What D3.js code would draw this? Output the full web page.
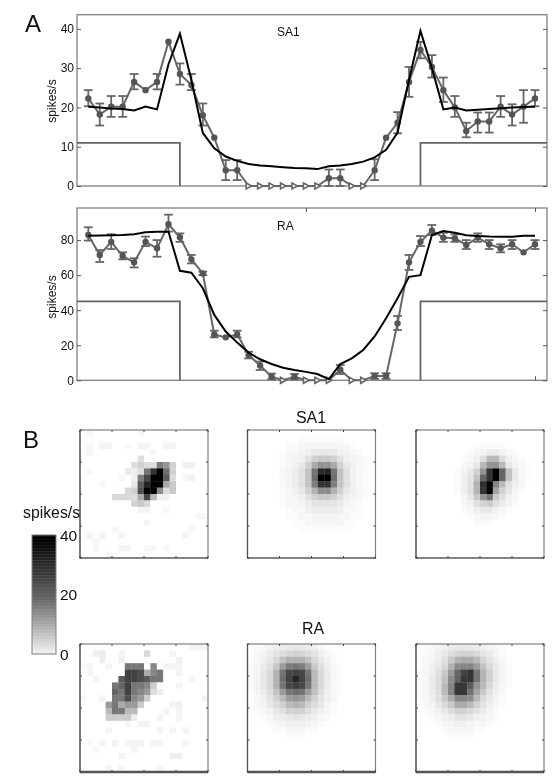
<!DOCTYPE html>
<html>
<head>
<meta charset="utf-8">
<script src="https://cdn.jsdelivr.net/npm/d3@7"></script>
<style>
  html, body { margin: 0; padding: 0; background: #fff; }
  svg { display: block; filter: blur(0.4px); }
  text { font-family: "Liberation Sans", Arial, sans-serif; fill: #111; }
</style>
</head>
<body>
<div id="chart"></div>
<script>
// top panel, SA1
const sa1Mean = [22.3,18.2,20.2,20.2,26.5,24.4,26.5,36.7,28.5,25.7,18,12.3,4,4,0,0,0,0,0,0,0,2,2,0,0,4,12.3,16.1,26.5,34.6,30.3,24.4,20,14,16.4,16.4,20.2,18.2,20.2,22.3];
const sa1Upper = [24.4,21,22.9,22.9,28.5,24.4,28.5,36.7,31.2,28.5,21,12.3,6.6,6.6,0,0,0,0,0,0,0,4.2,4.2,0,0,6.8,12.3,18.8,30.3,36.7,33.3,27.6,22.9,16.1,18.7,18.7,22.9,20.8,24.4,24.4];
const sa1Lower = [20.3,15.4,17.6,17.6,24.6,24.4,24.6,36.7,25.8,24.4,15.4,12.3,1.5,1.5,0,0,0,0,0,0,0,0,0,0,0,1.5,12.3,13.4,22.7,32.5,27.6,21.4,17.6,12.4,13.6,13.6,17.6,15.4,16.1,20.3];
const sa1Model = [20.2,20,19.7,19.6,19.2,20.2,19.5,31,38.8,27,13.5,9.6,7.5,6.4,5.6,5.2,5,4.8,4.6,4.5,4.3,5,5.2,5.6,6.2,7.3,9.2,13.6,27,39.5,30,19.5,20,19.2,19.4,19.6,19.8,20,20.1,20.2];
// bottom panel, RA
const raMean = [82.9,71.5,79,70.9,67.3,79,75.3,89,81.6,69,61,26.2,24.5,26.2,14.4,8.4,2.1,0,2,0,0,0,6,0,0,2.5,2.5,32.5,67.3,79,85.4,81.4,81,77.2,81.4,77.6,75.3,77.6,73,77.6];
const raUpper = [87.3,74.3,83.3,73,69.6,82,80,94.5,83.8,71.5,62,28.3,24.5,28.3,16.3,10.7,3.8,0,3.6,0,0,0,8.7,0,0,4,4,36.7,71.5,82.3,88.6,84.2,83.3,80,83.8,80,77.6,80,73,80];
const raLower = [79.7,67.5,74.9,69,64.4,76.6,70.5,84.8,79,66.7,60,24.5,24.5,24.5,12.5,5.9,0.6,0,0.6,0,0,0,3.6,0,0,0.8,0.8,28.7,63,76.6,82.9,79,79,74.9,79,74.9,73,74.9,73,74.9];
const raModel = [82.5,82.6,82.7,82.9,83.3,84.4,84.8,84.8,62.5,61.4,52.5,37.3,27.8,21.5,15.8,12,9.3,7.2,5.9,4.8,3.6,0.6,9.3,12.5,17.3,25,35.4,46.8,59,60,82.9,85.2,84.2,82.7,82.3,82,81.9,81.9,82.5,82.5];

const sa1Ticks = [0, 10, 20, 30, 40];
const raTicks = [0, 20, 40, 60, 80];
const colorbarTicks = [0, 20, 40];
const sa1Gate = 11;
const raGate = 45;
const gateEdges = [8, 29];

// receptive field maps, 20 x 20, spikes/s
const mapSa1Data = [
  [0,1,0,0,0,0,0,0,0,1,0,0,0,0,0,0,0,0,0,0],
  [0,0,0,0,0,0,0,0,0,0,0,0,0,0,0,0,0,0,0,0],
  [0,1,0,1.5,1.5,0,0,1,0,1.5,1.5,0,0,1.5,1.5,0,0,0,0,0],
  [0,1,0,0,0,0,0,0,0,0,0,1,0,0,0,0,0,0,0,0],
  [0,0,0,0,0,0,0,0,0,4,0,0,0,0,0,0,0,0,0,0],
  [0,0,0,0,0,0,0,0,4.4,6,4.4,4.4,17,14,6,0,2,2,0,0],
  [0,1,0,0,0,0,0,3,2,4.4,18,30,40,19,6,0,0,0,0,0],
  [0,0,0,0,0,0,1,0,2,17,26,40,40,22,4.4,0,1,2,0,0],
  [0,0,0,1,0,0,0,0,3,22,33,40,40,11,7,0,0,0,0,0],
  [0,0,0,0,0,0,0,5,6,24,40,40,15,4.4,7,0,0,0,0,0],
  [0,0,0,0,0,5,5,5,4.4,11,26,9,2,2,0,0,0,0,0,0],
  [0,0,0,0,0,0,0,0,6,7,5,0,0,0,0,0,0,0,0,0],
  [0,0,0,0,0,0,0,0,0,1.5,1.5,0,0,1,0,0,0,0,0,0],
  [0,0,0,0,0,0,0,0,0,0,0,0,0,0,0,0,0,0,1,1],
  [0,0,0,0,0,0,0,0,0,0,1.5,0,0,0,0,0,0,0,0,0],
  [0,0,0,0,0,1,0,0,0,0,0,0,0,0,0,0,0,1,0,0],
  [0,1.5,0,1.5,0,0,1.5,0,0,0,0,0,0,0,0,0,1.5,0,0,0],
  [0,0,1,0,0,0,0,0,0,0,0,0,0,0,0,0,0,0,0,0],
  [0,0,1,0,0,0,1.5,1.5,0,0,1,1,0,1,0,0,0,0,0,0],
  [0,0,0,0,1,0,0,0,0,0,0,0,0,0,0,0,0,0,0,0]
];
const mapSa1Model = [
  [0,0,0,0,0,0,0,0,0,0,0,0,0,0,0,0,0,0,0,0],
  [0,0,0,0,0,0,0,0,0.5,0.5,0.5,0.5,0.5,0.5,0.5,0,0,0,0,0],
  [0,0,0,0,0,0,0.5,0.5,1,1,1.5,1.5,1.5,1.5,1,1,0.5,0,0,0],
  [0,0,0,0,0,0.5,1,1,1.5,2,3,3,3,3,2,1.5,1,0.5,0,0],
  [0,0,0,0,0,0.5,1,1.5,2,4,6,7,7,6,4,2,1.5,1,0.5,0],
  [0,0,0,0,0,0.5,1,2,3,6,11,14,14,11,6,3,2,1,0.5,0],
  [0,0,0,0,0,1,1.5,2.5,4,8,18,32,33,18,8,4,2,1,0.5,0],
  [0,0,0,0,0,1,1.5,2.5,4,8,19,40,40,19,8,4,2,1,0.5,0],
  [0,0,0,0,0,1,1.5,2.5,4,8,17,30,30,17,8,4,2,1,0.5,0],
  [0,0,0,0,0,0.5,1,2,3,6,10,15,15,10,6,3,2,1,0.5,0],
  [0,0,0,0,0,0.5,1,1.5,2,4,6,7,7,6,4,2,1.5,1,0.5,0],
  [0,0,0,0,0,0.5,1,1,1.5,2.5,3.5,3.5,3.5,3.5,2.5,1.5,1,0.5,0,0],
  [0,0,0,0,0,0,0.5,1,1,2,2.5,2.5,2.5,2.5,2,1,1,0.5,0,0],
  [0,0,0,0,0,0,0.5,0.5,1,1,1.5,1.5,1.5,1.5,1,1,0.5,0.5,0,0],
  [0,0,0,0,0,0,0,0.5,0.5,1,1,1,1,1,1,0.5,0.5,0,0,0],
  [0,0,0,0,0,0,0,0,0.5,0.5,0.5,0.5,0.5,0.5,0.5,0.5,0,0,0,0],
  [0,0,0,0,0,0,0,0,0,0,0,0,0,0,0,0,0,0,0,0],
  [0,0,0,0,0,0,0,0,0,0,0,0,0,0,0,0,0,0,0,0],
  [0,0,0,0,0,0,0,0,0,0,0,0,0,0,0,0,0,0,0,0],
  [0,0,0,0,0,0,0,0,0,0,0,0,0,0,0,0,0,0,0,0]
];
const mapSa1Fit = [
  [0,0,0,0,0,0,0,0,0,0,0,0,0,0,0,0,0,0,0,0],
  [0,0,0,0,0,0,0,0,0,0,0,0,0,0,0,0,0,0,0,0],
  [0,0,0,0,0,0,0,0,0,0.5,0.5,0.5,0.5,0.5,0,0,0,0,0,0],
  [0,0,0,0,0,0,0,0,0.5,1,1.5,2.5,2.5,1.5,1,0.5,0,0,0,0],
  [0,0,0,0,0,0,0,0.5,1,2,4.4,9,9,4.4,2,1,0.5,0,0,0],
  [0,0,0,0,0,0,0,1,1.5,3,9,14,14,9,3,1.5,1,0.5,0,0],
  [0,0,0,0,0,0,0.5,1.5,3,6,14,30,40,20,8,3,1,0.5,0,0],
  [0,0,0,0,0,0,0.5,2,3.5,8,20,30,40,20,8,3,1,0.5,0,0],
  [0,0,0,0,0,0,0.5,2,4,10,31,40,16,9,4,2,1,0,0,0],
  [0,0,0,0,0,0,0.5,2,4,10,30,40,12,6,3,1.5,0.5,0,0,0],
  [0,0,0,0,0,0,0,1.5,3,7,14,18,7,4,2,1,0,0,0,0],
  [0,0,0,0,0,0,0,1,2,4,6,7,4,2.5,1.5,0.5,0,0,0,0],
  [0,0,0,0,0,0,0,0.5,1,2,3,3,2,1,0.5,0,0,0,0,0],
  [0,0,0,0,0,0,0,0,0.5,1,1.5,1.5,1,0.5,0,0,0,0,0,0],
  [0,0,0,0,0,0,0,0,0,0.5,0.5,0.5,0,0,0,0,0,0,0,0],
  [0,0,0,0,0,0,0,0,0,0,0,0,0,0,0,0,0,0,0,0],
  [0,0,0,0,0,0,0,0,0,0,0,0,0,0,0,0,0,0,0,0],
  [0,0,0,0,0,0,0,0,0,0,0,0,0,0,0,0,0,0,0,0],
  [0,0,0,0,0,0,0,0,0,0,0,0,0,0,0,0,0,0,0,0],
  [0,0,0,0,0,0,0,0,0,0,0,0,0,0,0,0,0,0,0,0]
];
const mapRaData = [
  [0,0,0,0,0,0,0,0,0,0,0,0,0,0,0,0,0,1.5,1.5,1.5],
  [0,0,2,2.5,0,0,1.5,0,0,0,5,0,0,0,1.5,0,0,0,0,0],
  [0,0,0,2,0,0,2,0,0,0,0,0,0,0,0,2,0,0,0,0],
  [1,1,0,0,1.5,0,0,17.8,17.8,17.8,0,15.6,0,1.5,1.5,1.5,0,0,0,0],
  [0,1.5,0,0,0,0,0,27,27,25,11,15.6,17.8,0,0,1.5,0,0,0,0],
  [0,0,1.5,0,0,0,22,27,27,25,22,17.8,17.8,0,0,0,0,1.5,0,0],
  [0,0,0,0,0,17.8,20,27,17.8,17.8,15.6,6.7,0,0,0,1.5,0,0,0,0],
  [0,0,0,0,0,20,17.8,27,17.8,15.6,13.3,4.4,2.2,0,0,0,0,0,0,0],
  [1,0,0,1.5,0,17.8,17.8,25,15.6,13.3,6.7,0,0,0,0,0,0,0,0,1.5],
  [0,0,0,0,13.3,17.8,11,13.3,13.3,6.7,0,0,0,0,1.5,2,0,0,0,0],
  [0,0,0,0,9,17.8,17.8,9,9,0,0,0,0,1.5,0,1.5,0,0,0,0],
  [0,0,0,0,6.7,6.7,6.7,6.7,2.2,0,0,0,1.5,0,0,1.5,0,0,0,0],
  [0,0,0,0,0,0,0,1.5,0,1.5,1.5,0,0,0,0,0,0,0,0,0],
  [0,0,0,0,1.5,0,0,0,0,0,0,0,1.5,0,1.5,0,1.5,0,0,0],
  [0,0,0,0,0,0,0,0,0,0,0,0,0,0,0,0,0,0,0,0],
  [0,1,0,1.5,0,1.5,0,1.5,1.5,1.5,0,1.5,1.5,0,0,0,1.5,0,0,0],
  [0,0,1,0,0,0,0,0,1.5,0,0,0,0,0,0,0,0,0,0,0],
  [0,0,0,0,0,0,1.5,0,0,0,0,0,0,0,2,2,0,0,0,0],
  [0,0,0,0,0,0,0,0,0,0,0,0,0,0,0,0,0,0,0,0],
  [0,0,0,0,1.5,0,1.5,0,0,0,0,0,1.5,0,0,0,0,0,0,0]
];
const mapRaModel = [
  [0,0.5,1,1.5,2,2.5,3,3,3,2.5,2,1,0.5,0,0,0,0,0,0,0],
  [0,1,1.5,2.5,3.5,4.5,5.5,6,5.5,4.5,3.5,2,1,0.5,0,0,0,0,0,0],
  [0.5,1,2,3,5,8,10,10,10,8,5,3,1.5,0.5,0,0,0,0,0,0],
  [0.5,1.5,2.5,4,7,13,17,18,17,13,7,4,2,1,0.5,0,0,0,0,0],
  [0.5,1.5,3,5,10,18,26,27,26,18,9,5,2.5,1,0.5,0,0,0,0,0],
  [0.5,1.5,3,5,10,19,27,33,27,19,9,5,2.5,1,0.5,0,0,0,0,0],
  [0.5,1.5,3,5,10,18,26,28,26,18,9,5,2.5,1,0.5,0,0,0,0,0],
  [0.5,1.5,2.5,4.5,8,13,18,19,18,13,8,4.5,2,1,0.5,0,0,0,0,0],
  [0,1,2,3.5,6,9,13,14,13,9,6,3.5,2,1,0,0,0,0,0,0],
  [0,1,1.5,3,4.5,6,9,10,9,6,4.5,3,1.5,0.5,0,0,0,0,0,0],
  [0,0.5,1,2,3,4,6,6,6,4,3,2,1,0.5,0,0,0,0,0,0],
  [0,0,0.5,1,2,2.5,3,3.5,3,2.5,2,1,0.5,0,0,0,0,0,0,0],
  [0,0,0,0.5,1,1.5,2,2,2,1.5,1,0.5,0,0,0,0,0,0,0,0],
  [0,0,0,0,0.5,0.5,1,1,1,0.5,0.5,0,0,0,0,0,0,0,0,0],
  [0,0,0,0,0,0,0.5,0.5,0.5,0,0,0,0,0,0,0,0,0,0,0],
  [0,0,0,0,0,0,0,0,0,0,0,0,0,0,0,0,0,0,0,0],
  [0,0,0,0,0,0,0,0,0,0,0,0,0,0,0,0,0,0,0,0],
  [0,0,0,0,0,0,0,0,0,0,0,0,0,0,0,0,0,0,0,0],
  [0,0,0,0,0,0,0,0,0,0,0,0,0,0,0,0,0,0,0,0],
  [0,0,0,0,0,0,0,0,0,0,0,0,0,0,0,0,0,0,0,0]
];
const mapRaFit = [
  [0,0.5,1,1.5,2,2.5,3,3,3,2.5,2,1.5,1,0.5,0,0,0,0,0,0],
  [0,0.5,1,2,3,4.5,5.5,6,6,5,3.5,2.5,1.5,0.5,0,0,0,0,0,0],
  [0,1,1.5,2.5,4,7,10,11,11,9,5.5,3.5,2,1,0.5,0,0,0,0,0],
  [0,1,2,3,5,10,15,16,16,13,8,5,3,1.5,0.5,0,0,0,0,0],
  [0.5,1,2,4,7,13,20,27,30,18,10,6,3,1.5,0.5,0,0,0,0,0],
  [0.5,1,2.5,4.5,8,15,21,29,30,18,10,6,3,1.5,0.5,0,0,0,0,0],
  [0.5,1,2.5,4.5,9,16,29,29,22,14,9,5,2.5,1,0.5,0,0,0,0,0],
  [0.5,1,2.5,4.5,9,16,29,29,18,12,7,4,2,1,0,0,0,0,0,0],
  [0.5,1,2,4,7,11,16,16,15,9,5,3,1.5,0.5,0,0,0,0,0,0],
  [0,1,1.5,3,5,7,11,11,9,6,3.5,2,1,0.5,0,0,0,0,0,0],
  [0,0.5,1,2,3,4.5,6,6,5,3.5,2.5,1.5,0.5,0,0,0,0,0,0,0],
  [0,0,0.5,1,2,2.5,3.5,3.5,3,2,1.5,1,0.5,0,0,0,0,0,0,0],
  [0,0,0,0.5,1,1.5,2,2,1.5,1,1,0.5,0,0,0,0,0,0,0,0],
  [0,0,0,0,0.5,1,1,1,1,0.5,0.5,0,0,0,0,0,0,0,0,0],
  [0,0,0,0,0,0.5,0.5,0.5,0.5,0,0,0,0,0,0,0,0,0,0,0],
  [0,0,0,0,0,0,0,0,0,0,0,0,0,0,0,0,0,0,0,0],
  [0,0,0,0,0,0,0,0,0,0,0,0,0,0,0,0,0,0,0,0],
  [0,0,0,0,0,0,0,0,0,0,0,0,0,0,0,0,0,0,0,0],
  [0,0,0,0,0,0,0,0,0,0,0,0,0,0,0,0,0,0,0,0],
  [0,0,0,0,0,0,0,0,0,0,0,0,0,0,0,0,0,0,0,0]
];

const svg = d3.select("#chart").append("svg").attr("width", 559).attr("height", 778);

const lineColor = "#666";
const frameColor = "#808080";
const left = 77, right = 547;
const x = d3.scaleLinear().domain([0, 39]).range([88.3, 535]);

const drawTrace = (opts) => {
  const { top, bottom, yMax, ticks, mean, upper, lower, model, gate, title, titleY, showXTicks } = opts;
  const y = d3.scaleLinear().domain([0, yMax]).range([bottom, top]);
  const g = svg.append("g");

  g.append("rect")
    .attr("x", left).attr("y", top)
    .attr("width", right - left).attr("height", bottom - top)
    .attr("fill", "none").attr("stroke", frameColor).attr("stroke-width", 1.3);

  // stimulus gate
  const gateLine = d3.line();
  g.append("path")
    .attr("d", gateLine([[left, y(gate)], [x(gateEdges[0]), y(gate)], [x(gateEdges[0]), y(0)]]))
    .attr("fill", "none").attr("stroke", lineColor).attr("stroke-width", 1.8);
  g.append("path")
    .attr("d", gateLine([[x(gateEdges[1]), y(0)], [x(gateEdges[1]), y(gate)], [right, y(gate)]]))
    .attr("fill", "none").attr("stroke", lineColor).attr("stroke-width", 1.8);

  // axes
  const axisL = g.append("g").attr("transform", `translate(${left},0)`)
    .call(d3.axisLeft(y).tickValues(ticks).tickSizeInner(-4).tickSizeOuter(0).tickPadding(3));
  const axisR = g.append("g").attr("transform", `translate(${right},0)`)
    .call(d3.axisRight(y).tickValues(ticks).tickSizeInner(-4).tickSizeOuter(0).tickFormat(""));
  [axisL, axisR].forEach((a) => {
    a.select(".domain").remove();
    a.selectAll("line").attr("stroke", "#555");
  });
  axisL.selectAll("text").style("font-size", "12px").style("font-family", "Liberation Sans").attr("fill", "#111");

  if (showXTicks) {
    g.append("g").attr("transform", `translate(0,${top})`)
      .call(d3.axisTop(x).tickValues([19, 39]).tickSizeInner(-4).tickSizeOuter(0).tickFormat(""))
      .call((a) => a.select(".domain").remove())
      .selectAll("line").attr("stroke", "#555");
    g.append("g").attr("transform", `translate(0,${bottom})`)
      .call(d3.axisBottom(x).tickValues([39]).tickSizeInner(-4).tickSizeOuter(0).tickFormat(""))
      .call((a) => a.select(".domain").remove())
      .selectAll("line").attr("stroke", "#555");
  }

  // data trace
  const line = d3.line().x((d, i) => x(i)).y((d) => y(d));
  g.append("path").datum(mean)
    .attr("d", line).attr("fill", "none").attr("stroke", lineColor).attr("stroke-width", 2);

  // error bars
  const bars = g.append("g").attr("stroke", lineColor).attr("stroke-width", 1.8);
  mean.forEach((m, i) => {
    if (upper[i] === lower[i]) return;
    bars.append("line").attr("x1", x(i)).attr("x2", x(i)).attr("y1", y(upper[i])).attr("y2", y(lower[i]));
    [upper[i], lower[i]].forEach((v) => {
      bars.append("line").attr("x1", x(i) - 4.4).attr("x2", x(i) + 4.4).attr("y1", y(v)).attr("y2", y(v));
    });
  });

  // markers: filled circle, open triangle where the rate is zero
  mean.forEach((m, i) => {
    if (m === 0) {
      const cx = x(i), cy = y(0);
      g.append("path")
        .attr("d", d3.line()([[cx - 2.5, cy - 3], [cx + 3, cy], [cx - 2.5, cy + 3]]) + "Z")
        .attr("fill", "#fff").attr("stroke", lineColor).attr("stroke-width", 1.6);
    } else {
      g.append("circle").attr("cx", x(i)).attr("cy", y(m)).attr("r", 3.2).attr("fill", "#555");
    }
  });

  // model
  g.append("path").datum(model)
    .attr("d", line).attr("fill", "none").attr("stroke", "#000").attr("stroke-width", 2)
    .attr("stroke-linejoin", "miter");

  g.append("text").attr("x", 277).attr("y", titleY).style("font-size", "12px").text(title);
  g.append("text")
    .attr("transform", `translate(55.5,${opts.labelY}) rotate(-90)`)
    .attr("text-anchor", "middle").style("font-size", "12px").text("spikes/s");
};

drawTrace({ top: 14.7, bottom: 186, yMax: 43.6, ticks: sa1Ticks, mean: sa1Mean, upper: sa1Upper, lower: sa1Lower,
  model: sa1Model, gate: sa1Gate, title: "SA1", titleY: 36, labelY: 101 });
drawTrace({ top: 208, bottom: 380.3, yMax: 98.3, ticks: raTicks, mean: raMean, upper: raUpper, lower: raLower,
  model: raModel, gate: raGate, title: "RA", titleY: 230, labelY: 297, showXTicks: true });

// panel letters
svg.append("text").attr("x", 25).attr("y", 32).style("font-size", "24px").text("A");
svg.append("text").attr("x", 23).attr("y", 448).style("font-size", "24px").text("B");

// grey map shared by heatmaps and colourbar
const grey = d3.scaleLinear().domain([0, 20, 40]).range(["#ffffff", "#666666", "#000000"]).clamp(true);
const cells = d3.range(20);

const drawMap = (matrix, x0, y0, size, heavyBottom) => {
  const cx = d3.scaleBand().domain(cells).range([x0, x0 + size]);
  const cy = d3.scaleBand().domain(cells).range([y0, y0 + size]);
  const g = svg.append("g");
  g.selectAll("g").data(matrix).enter().append("g")
    .selectAll("rect").data((row, r) => row.map((v, c) => ({ v, r, c }))).enter().append("rect")
    .attr("x", (d) => cx(d.c)).attr("y", (d) => cy(d.r))
    .attr("width", cx.bandwidth() + 0.3).attr("height", cy.bandwidth() + 0.3)
    .attr("fill", (d) => grey(d.v));

  g.append("rect").attr("x", x0).attr("y", y0).attr("width", size).attr("height", size)
    .attr("fill", "none").attr("stroke", frameColor).attr("stroke-width", 1.2);
  g.append("path").attr("d", d3.line()([[x0, y0], [x0, y0 + size], [x0 + size, y0 + size]]))
    .attr("fill", "none").attr("stroke", "#555").attr("stroke-width", 1.2);
  if (heavyBottom) {
    g.append("line").attr("x1", x0).attr("x2", x0 + size).attr("y1", y0 + size).attr("y2", y0 + size)
      .attr("stroke", "#555").attr("stroke-width", 2.6);
  }

  // small inward ticks on all sides
  const pos = d3.scaleLinear().domain([0, 4]).range([0, size]);
  const ticks = g.append("g").attr("stroke", "#444").attr("stroke-width", 1);
  d3.range(5).forEach((k) => {
    ticks.append("line").attr("x1", x0).attr("x2", x0 + 2).attr("y1", y0 + pos(k)).attr("y2", y0 + pos(k));
    ticks.append("line").attr("x1", x0 + size - 2).attr("x2", x0 + size).attr("y1", y0 + pos(k)).attr("y2", y0 + pos(k));
    ticks.append("line").attr("y1", y0).attr("y2", y0 + 2).attr("x1", x0 + pos(k)).attr("x2", x0 + pos(k));
    ticks.append("line").attr("y1", y0 + size - 2).attr("y2", y0 + size).attr("x1", x0 + pos(k)).attr("x2", x0 + pos(k));
  });
};

const mapSize = 128;
drawMap(mapSa1Data, 80, 430, mapSize);
drawMap(mapSa1Model, 247.5, 430, mapSize);
drawMap(mapSa1Fit, 416, 430, mapSize);
drawMap(mapRaData, 80, 644, mapSize, true);
drawMap(mapRaModel, 247.5, 644, mapSize, true);
drawMap(mapRaFit, 416, 644, mapSize, true);

svg.append("text").attr("x", 311).attr("y", 423).attr("text-anchor", "middle").style("font-size", "16px").text("SA1");
svg.append("text").attr("x", 313).attr("y", 634).attr("text-anchor", "middle").style("font-size", "16px").text("RA");

// colourbar
const barY = d3.scaleLinear().domain([0, 40]).range([654, 535]);
const barG = svg.append("g");
barG.selectAll("rect").data(d3.range(0, 40, 0.5)).enter().append("rect")
  .attr("x", 32).attr("width", 24)
  .attr("y", (d) => barY(d + 0.5)).attr("height", (d) => barY(d) - barY(d + 0.5) + 0.4)
  .attr("fill", (d) => grey(d + 1.5));
barG.append("rect").attr("x", 32).attr("y", 535).attr("width", 24).attr("height", 119)
  .attr("fill", "none").attr("stroke", frameColor).attr("stroke-width", 1);
barG.selectAll("text").data(colorbarTicks).enter().append("text")
  .attr("x", 60).attr("y", (d) => barY(d) + 5.5)
  .style("font-size", "15.5px").text((d) => d);
svg.append("text").attr("x", 23).attr("y", 518).style("font-size", "15.8px").text("spikes/s");
</script>
</body>
</html>
